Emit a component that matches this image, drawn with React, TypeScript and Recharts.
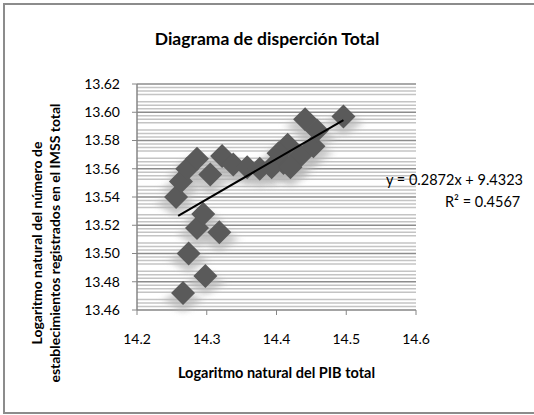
import React from 'react'
import { ReferenceLine, Scatter, ScatterChart, XAxis, YAxis } from 'recharts'

// log PIB total (x) vs log establecimientos IMSS (y)
const pibLog = [
  14.266, 14.274, 14.298, 14.286, 14.318, 14.295, 14.256, 14.263, 14.272, 14.286,
  14.305, 14.322, 14.338, 14.358, 14.376, 14.393, 14.41, 14.416, 14.434, 14.453,
  14.458, 14.441, 14.496, 14.42, 14.403,
]
const imssLog = [
  13.472, 13.5, 13.484, 13.518, 13.515, 13.528, 13.54, 13.551, 13.56, 13.567,
  13.556, 13.569, 13.563, 13.561, 13.56, 13.561, 13.564, 13.577, 13.569, 13.576,
  13.587, 13.595, 13.597, 13.561, 13.571,
]

const xTicks = [14.2, 14.3, 14.4, 14.5, 14.6]
const yTicks = [13.46, 13.48, 13.5, 13.52, 13.54, 13.56, 13.58, 13.6, 13.62]
const minorLines = [
  13.4625, 13.465, 13.4675, 13.4725, 13.475, 13.4775, 13.4825, 13.485, 13.4875,
  13.4925, 13.495, 13.4975, 13.5025, 13.505, 13.5075, 13.5125, 13.515, 13.5175,
  13.5225, 13.525, 13.5275, 13.5325, 13.535, 13.5375, 13.5425, 13.545, 13.5475,
  13.5525, 13.555, 13.5575, 13.5625, 13.565, 13.5675, 13.5725, 13.575, 13.5775,
  13.5825, 13.585, 13.5875, 13.5925, 13.595, 13.5975, 13.6025, 13.605, 13.6075,
  13.6125, 13.615, 13.6175,
]

// trend line ends
const trendX = [14.259, 14.496]
const trendY = [13.5266, 13.5945]

const data = pibLog.map((x, i) => ({ x, y: imssLog[i] }))
const trend = trendX.map((x, i) => ({ x, y: trendY[i] }))

const font = 'Lato, "Open Sans", sans-serif'

const diamondPath = (cx: number, cy: number, rx: number, ry: number) =>
  `M${cx} ${cy - ry} L${cx + rx} ${cy} L${cx} ${cy + ry} L${cx - rx} ${cy} Z`

const Shadow = (props: any) => {
  const { cx, cy } = props
  if (cx == null || cy == null) return null
  return <path d={diamondPath(cx, cy + 7, 19, 13)} fill="#b4b4b4" opacity={0.7} filter="url(#soft)" />
}

const Diamond = (props: any) => {
  const { cx, cy } = props
  if (cx == null || cy == null) return null
  return <path d={diamondPath(cx, cy, 12, 12)} fill="#5a5a5a" />
}

export default function App() {
  return (
    <div style={{ position: 'absolute', left: 0, top: 0, width: 534, height: 415, background: '#fff', fontFamily: font }}>
      <div style={{ position: 'absolute', left: 3, top: 3, width: 540, height: 411, border: '2px solid #8c8c8c', boxSizing: 'border-box' }} />
      <ScatterChart width={534} height={415} margin={{ top: 84, right: 118, bottom: 75, left: 77 }}>
        <defs>
          <filter id="soft" x="-50%" y="-50%" width="200%" height="200%">
            <feGaussianBlur stdDeviation="4 2.5" />
          </filter>
        </defs>
        <XAxis
          type="number"
          dataKey="x"
          domain={[14.2, 14.6]}
          ticks={xTicks}
          tickFormatter={(v: number) => v.toFixed(1)}
          height={30}
          axisLine={{ stroke: '#868686', strokeWidth: 1.5 }}
          tickLine={{ stroke: '#868686' }}
          tickSize={5}
          tick={{ fill: '#000', fontSize: 14, fontFamily: font, dy: 17 }}
        />
        <YAxis
          type="number"
          dataKey="y"
          domain={[13.46, 13.62]}
          ticks={yTicks}
          tickFormatter={(v: number) => v.toFixed(2)}
          width={60}
          axisLine={{ stroke: '#868686', strokeWidth: 1.5 }}
          tickLine={{ stroke: '#868686' }}
          tickSize={5}
          tick={{ fill: '#000', fontSize: 14, fontFamily: font, dx: -10 }}
        />
        {minorLines.map((v) => (
          <ReferenceLine key={'m' + v} y={v} stroke="#c4c4c4" strokeWidth={1.5} />
        ))}
        {yTicks.slice(1).map((v) => (
          <ReferenceLine key={'M' + v} y={v} stroke="#8c8c8c" strokeWidth={1.5} />
        ))}
        <Scatter data={data} shape={Shadow} isAnimationActive={false} />
        <Scatter data={data} shape={Diamond} isAnimationActive={false} />
        <Scatter
          data={trend}
          shape={() => null}
          line={{ stroke: '#000', strokeWidth: 2 }}
          isAnimationActive={false}
        />
      </ScatterChart>
      <div style={{ position: 'absolute', left: 0, width: 534, top: 28, textAlign: 'center', fontWeight: 700, fontSize: 17.5 }}>
        Diagrama de disperción Total
      </div>
      <div style={{ position: 'absolute', left: 137, width: 279, top: 364, textAlign: 'center', fontWeight: 700, fontSize: 14.5 }}>
        Logaritmo natural del PIB total
      </div>
      <div
        style={{
          position: 'absolute',
          left: 46 - 170,
          top: 243 - 18,
          width: 340,
          textAlign: 'center',
          fontWeight: 700,
          fontSize: 14,
          lineHeight: '18px',
          transform: 'rotate(-90deg)',
        }}
      >
        Logaritmo natural del número de
        <br />
        establecimientos registrados en el IMSS total
      </div>
      <div style={{ position: 'absolute', left: 386, top: 171, fontSize: 14.5, whiteSpace: 'nowrap' }}>
        y = 0.2872x + 9.4323
      </div>
      <div style={{ position: 'absolute', left: 445, top: 193, fontSize: 14.5, whiteSpace: 'nowrap' }}>
        R² = 0.4567
      </div>
    </div>
  )
}
